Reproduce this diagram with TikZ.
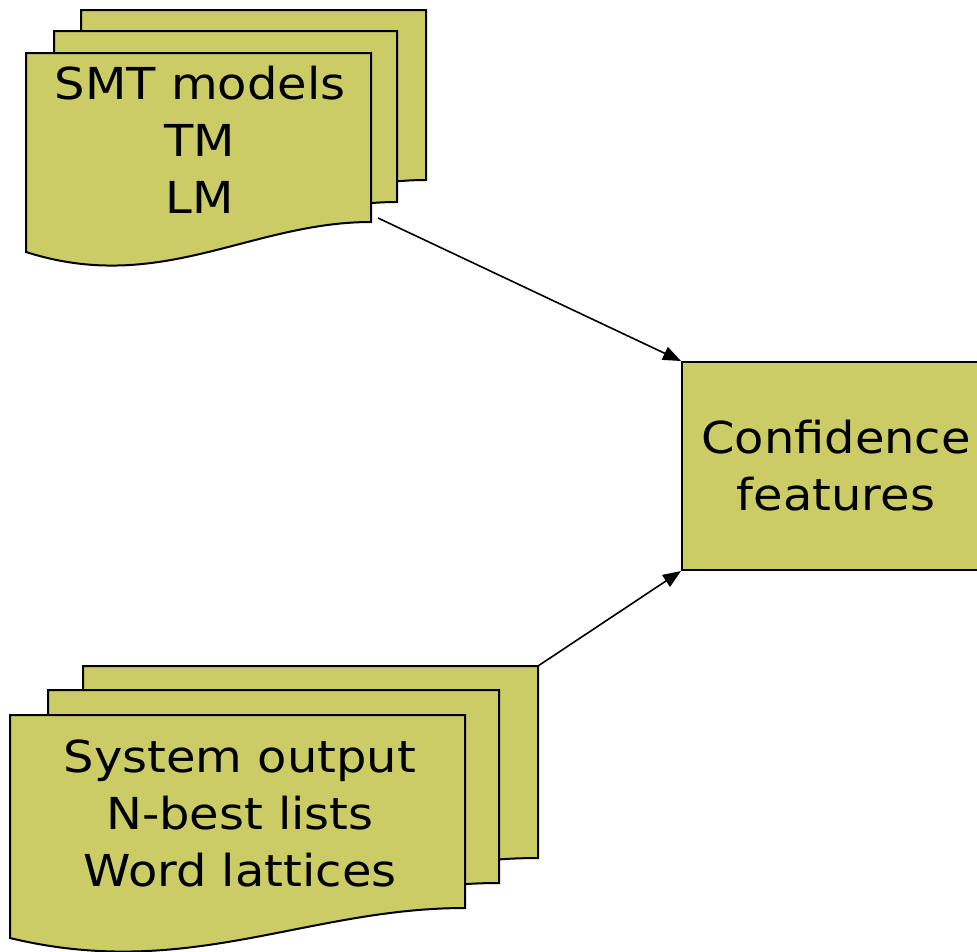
\documentclass[tikz,border=0pt]{standalone}
\usepackage{fontspec}
\setmainfont[FakeStretch=1.09]{DejaVu Sans}
\usetikzlibrary{arrows.meta}
\definecolor{sheetfill}{RGB}{204,204,102}

% one sheet of a stacked document: #1 left x, #2 right x, #3 top y, #4 bottom-right y
\newcommand\docsheet[4]{%
  \filldraw[sheet]
    (#1,#3) -- (#2,#3) -- (#2,#4)
    .. controls ({#2-0.35*(#2-#1)},#4) and ({#1+0.39*(#2-#1)},{#4+73}) ..
    (#1,{#4+30}) -- cycle;}

\tikzset{
  sheet/.style={fill=sheetfill, draw=black, line width=2pt, line join=miter},
  label/.style={font=\fontsize{44}{57}\selectfont, align=center, inner sep=0pt},
  procbox/.style={fill=sheetfill, draw=black, line width=2pt,
    font=\fontsize{44}{57}\selectfont, align=center, inner sep=0pt,
    minimum width=308pt, minimum height=208pt},
  flow/.style={line width=1.6pt, -{Triangle[length=18pt,width=14pt]}}
}

\begin{document}
\begin{tikzpicture}[x=1pt, y=-1pt]
  \useasboundingbox (0,0) rectangle (977,951);
  \clip (0,0) rectangle (977,951);

  % model files
  \docsheet{81}{426}{10}{180}
  \docsheet{54}{397}{31}{202}
  \docsheet{26}{371}{53}{222}
  \node[label] (models) at (200,140) {SMT models\\TM\\LM};
  \coordinate (modelsout) at (378,218);

  % decoder outputs
  \docsheet{83}{538}{666}{858}
  \docsheet{48}{499}{690}{883}
  \docsheet{10}{465}{715}{908}
  \node[label] (outputs) at (240,813) {System output\\N-best lists\\Word lattices};
  \coordinate (outputsout) at (538,666);

  % feature box
  \node[procbox] (conf) at (836,466) {Confidence\\features};

  \draw[flow] (modelsout) -- (conf.north west);
  \draw[flow] (outputsout) -- (conf.south west);
\end{tikzpicture}
\end{document}
